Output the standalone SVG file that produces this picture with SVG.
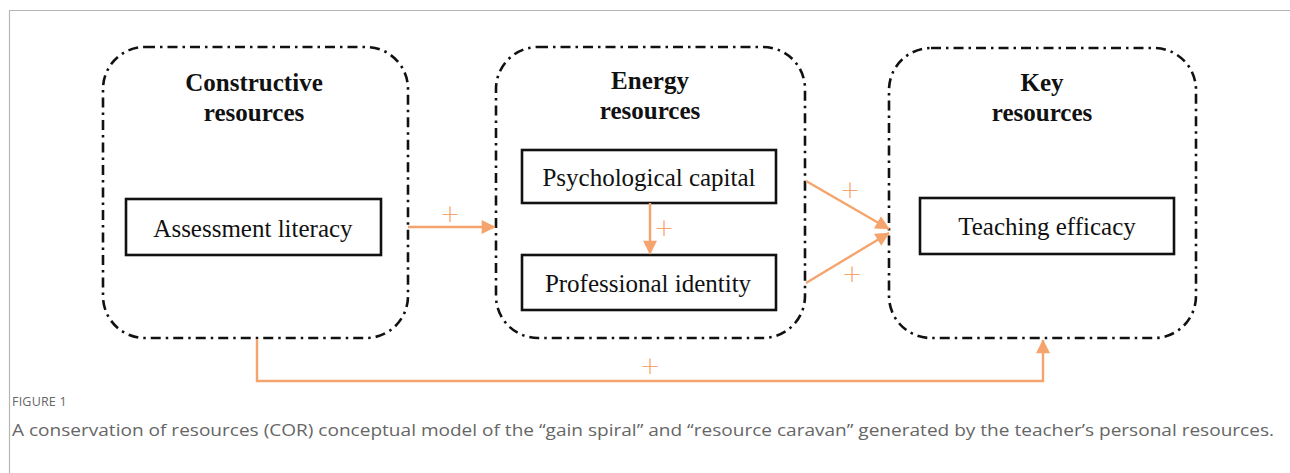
<svg xmlns="http://www.w3.org/2000/svg" width="1290" height="473" viewBox="0 0 1290 473">
  <style>
    .group { fill: none; stroke: #111; stroke-width: 2.6; stroke-dasharray: 10 5 2.5 5; }
    .title { font-family: "Liberation Serif", "Times New Roman", serif; font-weight: bold; font-size: 25px; fill: #111; text-anchor: middle; }
    .item { fill: #fff; stroke: #111; stroke-width: 2.6; }
    .label { font-family: "Liberation Serif", "Times New Roman", serif; font-size: 25px; fill: #111; text-anchor: middle; }
    .link { fill: none; stroke: #F4A46C; stroke-width: 2.4; }
    .plus { font-family: "DejaVu Sans", sans-serif; font-weight: 200; font-size: 24px; fill: #F4A46C; text-anchor: middle; }
    .cap { font-family: "Open Sans", "Noto Sans", sans-serif; fill: #666; }
  </style>
  <defs>
    <marker id="arrow" viewBox="0 0 10 10" refX="9.5" refY="5" markerWidth="16" markerHeight="14" orient="auto" markerUnits="userSpaceOnUse">
      <path d="M0,0 L10,5 L0,10 z" fill="#F4A46C"/>
    </marker>
  </defs>

  <rect width="1290" height="473" fill="#fff"/>
  <!-- page frame -->
  <path d="M1290,10.5 H9.5 V473" fill="none" stroke="#b5b5b5" stroke-width="1.2"/>

  <g id="constructive">
    <rect class="group" x="103" y="47" width="305" height="291" rx="42" ry="42"/>
    <text class="title" x="254" y="91">Constructive</text>
    <text class="title" x="254" y="121">resources</text>
  </g>
  <g id="assessment-literacy">
    <rect class="item" x="126" y="199" width="255" height="56"/>
    <text class="label" x="253" y="237">Assessment literacy</text>
  </g>

  <g id="energy">
    <rect class="group" x="496" y="47" width="309" height="291" rx="42" ry="42"/>
    <text class="title" x="650" y="89">Energy</text>
    <text class="title" x="650" y="119">resources</text>
  </g>
  <g id="psychological-capital">
    <rect class="item" x="522" y="150" width="254" height="53"/>
    <text class="label" x="649" y="186">Psychological capital</text>
  </g>
  <g id="professional-identity">
    <rect class="item" x="522" y="255" width="254" height="55"/>
    <text class="label" x="648" y="292">Professional identity</text>
  </g>

  <g id="key">
    <rect class="group" x="889" y="48" width="307" height="290" rx="42" ry="42"/>
    <text class="title" x="1042" y="91">Key</text>
    <text class="title" x="1042" y="121">resources</text>
  </g>
  <g id="teaching-efficacy">
    <rect class="item" x="920" y="198" width="254" height="56"/>
    <text class="label" x="1047" y="235">Teaching efficacy</text>
  </g>

  <g id="connectors">
    <path class="link" d="M408,227 H495" marker-end="url(#arrow)"/>
    <path class="link" d="M650,203 V254" marker-end="url(#arrow)"/>
    <path class="link" d="M806,181 L889,229" marker-end="url(#arrow)"/>
    <path class="link" d="M806,283 L889,233" marker-end="url(#arrow)"/>
    <path class="link" d="M257,339 V381 H1043 V340" marker-end="url(#arrow)"/>
    <text class="plus" x="450" y="222">+</text>
    <text class="plus" x="664" y="236">+</text>
    <text class="plus" x="850" y="198">+</text>
    <text class="plus" x="852" y="282">+</text>
    <text class="plus" x="650" y="374">+</text>
  </g>

  <text class="cap" x="12" y="406" font-size="12.5" letter-spacing="0.2">FIGURE 1</text>
  <text class="cap" x="12" y="436" font-size="17" textLength="1262" lengthAdjust="spacingAndGlyphs">A conservation of resources (COR) conceptual model of the “gain spiral” and “resource caravan” generated by the teacher’s personal resources.</text>
</svg>
